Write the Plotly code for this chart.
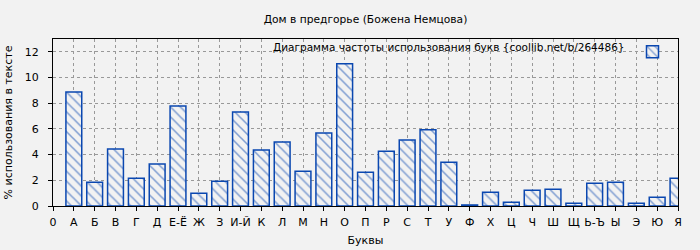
import plotly.graph_objects as go

letters = ["А", "Б", "В", "Г", "Д", "Е-Ё", "Ж", "З", "И-Й", "К", "Л", "М", "Н", "О", "П",
           "Р", "С", "Т", "У", "Ф", "Х", "Ц", "Ч", "Ш", "Щ", "Ь-Ъ", "Ы", "Э", "Ю", "Я"]
percent = [8.88, 1.85, 4.43, 2.16, 3.26, 7.79, 0.99, 1.93, 7.32, 4.35, 4.98, 2.71, 5.68, 11.07, 2.63,
           4.27, 5.13, 5.94, 3.41, 0.08, 1.07, 0.29, 1.23, 1.30, 0.21, 1.77, 1.85, 0.21, 0.68, 2.16]
tick_labels = ["0"] + letters
positions = list(range(1, len(letters) + 1))

title = "Дом в предгорье (Божена Немцова)"
legend_text = "Диаграмма частоты использования букв {coollib.net/b/264486}"

blue = "#0a47b0"
bg = "#f2f2f2"
font = "DejaVu Sans"

fig = go.Figure()
fig.add_trace(go.Bar(
    x=positions, y=percent, width=0.76, name="",
    marker=dict(color=bg, line=dict(color=blue, width=1.5),
                pattern=dict(shape="\\", fgcolor=blue, bgcolor=bg, size=7, solidity=0.22)),
    showlegend=True,
))

fig.update_layout(
    width=700, height=250,
    margin=dict(l=53, r=22, t=39, b=44),
    paper_bgcolor=bg, plot_bgcolor=bg,
    font=dict(family=font, size=11, color="#000"),
    title=dict(text=title, x=(53 + 678) / 2 / 700, xanchor="center", y=1 - 19.5 / 250, yanchor="middle",
               font=dict(family=font, size=10.7, color="#000")),
    showlegend=True,
    legend=dict(title=dict(text=legend_text, side="left", font=dict(size=10.5)),
                x=1.0, xanchor="right", y=1.01, yanchor="top", bgcolor="rgba(0,0,0,0)",
                itemwidth=30, font=dict(size=10.5)),
    xaxis=dict(range=[0, 30], tickmode="array", tickvals=list(range(0, 31)), ticktext=tick_labels,
               showgrid=True, gridcolor="#999", griddash="dot", gridwidth=1,
               ticks="outside", ticklen=4, tickcolor="#000", showline=True, linecolor="#000",
               linewidth=1, mirror=True, zeroline=False, automargin=False, ticklabelstandoff=2,
               title=dict(text="Буквы", standoff=8, font=dict(size=11))),
    yaxis=dict(range=[0, 13], dtick=2, tick0=0,
               showgrid=True, gridcolor="#999", griddash="dot", gridwidth=1,
               ticks="outside", ticklen=4, tickcolor="#000", showline=True, linecolor="#000",
               linewidth=1, mirror=True, zeroline=False, automargin=False, ticklabelstandoff=7,
               title=dict(text="% использования в тексте", standoff=9, font=dict(size=11))),
    bargap=0.24,
)

fig.write_html("out.html")
